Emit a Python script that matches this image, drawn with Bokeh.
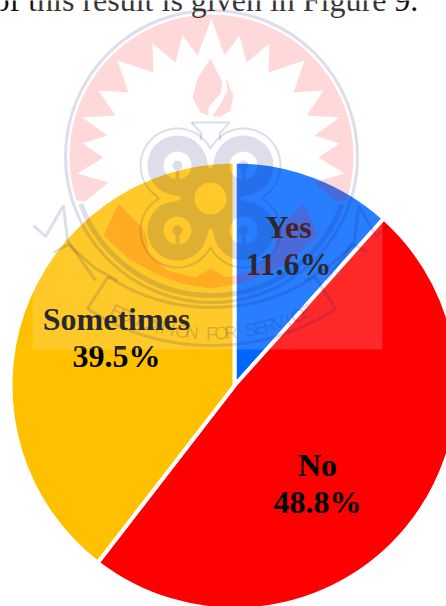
import math
from bokeh.plotting import figure
from bokeh.models import Range1d
from bokeh.core.properties import value
from bokeh.embed import file_html
from bokeh.resources import INLINE

categories = ["Yes", "No", "Sometimes"]
percents = [11.6, 48.8, 39.5]
colors = ["#0066FF", "#FF0000", "#FFC000"]
caption = "of this result is given in Figure 9."
motto = "EDUCATION FOR SERVICE"

W, H = 446, 606
def Y(py):
    return H - py

p = figure(width=W, height=H, x_range=Range1d(0, W), y_range=Range1d(0, H),
           output_backend="svg", toolbar_location=None, min_border=0,
           outline_line_color=None, background_fill_color="white")
p.axis.visible = False
p.grid.visible = False
p.styles = {"position": "absolute", "left": "0px", "top": "0px"}

# pie
cx, cy, r = 234, Y(385), 224
total = sum(percents)
cum = 0.0
for cat, pct, col in zip(categories, percents, colors):
    a0 = math.pi / 2 - 2 * math.pi * cum / total
    cum += pct
    a1 = math.pi / 2 - 2 * math.pi * cum / total
    p.wedge(x=[cx], y=[cy], radius=r, start_angle=a0, end_angle=a1, direction="clock",
            fill_color=col, line_color="white", line_width=4)

# labels
serif = value("Liberation Serif")
label_pos = {"Yes": (288, 226, 263), "No": (317, 464, 501), "Sometimes": (116, 318, 355)}
for cat, pct in zip(categories, percents):
    x, y1, y2 = label_pos[cat]
    for t, yy in ((cat, y1), (f"{pct:.1f}%", y2)):
        p.text(x=[x], y=[Y(yy)], text=[t], text_font=serif, text_font_style="bold",
               text_font_size="32px", text_align="center", text_baseline="alphabetic",
               text_color="black")

p.text(x=[-7], y=[Y(-1)], text=[caption], text_font=serif, text_font_size="32px",
       text_align="left", text_baseline="alphabetic", text_color="#111111")

# watermark (decorative background image of the page)
p.quad(left=[32], right=[382], bottom=[Y(349)], top=[H], fill_color="white", fill_alpha=0.16, line_color=None)

PINK = dict(fill_color="red", fill_alpha=0.15, line_color=None)
NAVY = "#1E1E78"
GA = 0.15
mx = 421
wc = (211, 156)

star_left = [(210, 18), (197, 55), (182, 35), (175, 62), (152, 43), (153, 72), (117, 60), (128, 92),
             (98, 90), (115, 115), (82, 117), (107, 135), (82, 143), (103, 157), (77, 173),
             (108, 182), (85, 201), (118, 203)]
arc = [(wc[0] + 142 * math.cos(math.radians(a)), wc[1] - 142 * math.sin(math.radians(a)))
       for a in range(198, -19, -3)]
path = arc + [(mx - x, y) for x, y in star_left[::-1][1:]] + star_left[1:-1]
p.patch([a for a, _ in path], [Y(b) for _, b in path], **PINK)

cres_low = [(118, 203), (103, 235), (128, 258), (153, 272), (180, 283), (210, 288)]
cres_top = [(210, 268), (195, 277), (167, 270), (148, 253), (146, 235), (140, 225)]
cres = cres_low + [(mx - x, y) for x, y in cres_low[::-1][1:]] + \
       [(mx - x, y) for x, y in cres_top[::-1][:-1]] + cres_top
p.patch([a for a, _ in cres], [Y(b) for _, b in cres], **PINK)

flame1 = [(210, 58), (197, 78), (192, 97), (200, 112), (208, 115), (208, 107), (220, 93), (222, 82)]
flame2 = [(225, 77), (233, 95), (230, 110), (220, 116), (212, 116), (220, 103), (227, 90)]
for f in (flame1, flame2):
    p.patch([a for a, _ in f], [Y(b) for _, b in f], **PINK)

# rings
p.circle(x=[wc[0]], y=[Y(wc[1])], radius=146, fill_color=None, line_color=NAVY, line_alpha=GA, line_width=3)
p.arc(x=[wc[0]], y=[Y(wc[1])], radius=139, start_angle=math.radians(200), end_angle=math.radians(340),
      direction="anticlock", line_color=NAVY, line_alpha=GA, line_width=5)

# emblem: quatrefoil with light holes
qc = (210, 198)
lobes = [(177, 165), (243, 165), (177, 230), (243, 230)]

def foil(rad, extra):
    pts = []
    for k in range(0, 360, 3):
        a = math.radians(k)
        ux, uy = math.cos(a), math.sin(a)
        best = extra
        for lx, ly in lobes:
            dx, dy = lx - qc[0], ly - qc[1]
            proj = dx * ux + dy * uy
            perp2 = dx * dx + dy * dy - proj * proj
            if perp2 < rad * rad:
                best = max(best, proj + math.sqrt(rad * rad - perp2))
        pts.append((qc[0] + best * ux, qc[1] + best * uy))
    return pts

def disc(c, rad):
    return [(c[0] + rad * math.cos(math.radians(k)), c[1] + rad * math.sin(math.radians(k)))
            for k in range(0, 360, 15)]

outer = foil(30, 30)
rings = [outer, disc(qc, 16)] + [disc(c, 14) for c in lobes]
p.multi_polygons(xs=[[[[a for a, _ in q] for q in rings]]],
                 ys=[[[[Y(b) for _, b in q] for q in rings]]],
                 fill_color=NAVY, fill_alpha=GA, line_color=None)
for lx, ly in lobes:
    p.circle(x=[lx], y=[Y(ly)], radius=5, fill_color=NAVY, fill_alpha=GA, line_color=None)
    p.quad(left=[lx - 2], right=[lx + 2], top=[Y(ly + 5)], bottom=[Y(ly + 14)],
           fill_color=NAVY, fill_alpha=GA, line_color=None)
line = foil(37, 37)
line = line + line[:1]
p.line([a for a, _ in line], [Y(b) for _, b in line], line_color=NAVY, line_alpha=GA, line_width=2)

neck = [(191, 122), (229, 122), (219, 133), (220, 140)]
p.line([a for a, _ in neck], [Y(b) for _, b in neck], line_color=NAVY, line_alpha=GA, line_width=2)
neck2 = [(191, 122), (201, 133), (200, 140)]
p.line([a for a, _ in neck2], [Y(b) for _, b in neck2], line_color=NAVY, line_alpha=GA, line_width=2)

# wings
wing = [(33, 225), (45, 236), (63, 205), (67, 240), (95, 280)]
wing2 = [(53, 252), (68, 244), (95, 268), (117, 280)]
for w in (wing, wing2):
    for xs in ([a for a, _ in w], [mx - a for a, _ in w]):
        p.line(xs, [Y(b) for _, b in w], line_color=NAVY, line_alpha=GA, line_width=3)

# banner and motto on an arc
mc = (211, 117)
for R in (190, 228):
    p.arc(x=[mc[0]], y=[Y(mc[1])], radius=R, start_angle=math.radians(237), end_angle=math.radians(303),
          direction="anticlock", line_color=NAVY, line_alpha=GA, line_width=3)
for s in (-1, 1):
    ang = math.radians(33)
    ex = [mc[0] + s * R * math.sin(ang) for R in (190, 228)]
    ey = [Y(mc[1] + R * math.cos(ang)) for R in (190, 228)]
    p.line(ex, ey, line_color=NAVY, line_alpha=GA, line_width=3)

mr = 216
n = len(motto)
for i, ch in enumerate(motto):
    da = (i - (n - 1) / 2) * 2.6
    ang = math.radians(da)
    p.text(x=[mc[0] + mr * math.sin(ang)], y=[Y(mc[1] + mr * math.cos(ang))], text=[ch], angle=[ang],
           text_font=value("Liberation Sans"), text_font_size="18px", text_align="center",
           text_baseline="alphabetic", text_color=NAVY, text_alpha=0.2)

open("out.html", "w").write(file_html(p, INLINE))
